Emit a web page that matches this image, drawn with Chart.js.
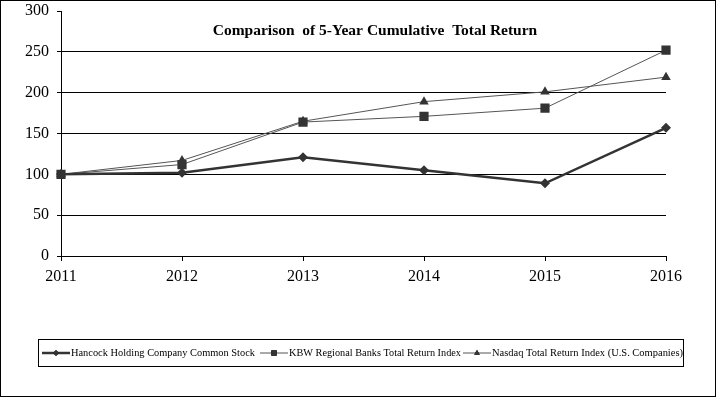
<!DOCTYPE html>
<html>
<head>
<meta charset="utf-8">
<script src="https://cdn.jsdelivr.net/npm/chart.js@4/dist/chart.umd.min.js"></script>
<style>
  html, body { margin: 0; padding: 0; background: #fff; }
  #wrap { width: 716px; height: 397px; position: relative; }
</style>
</head>
<body>
<div id="wrap"><canvas id="chart" width="716" height="397"></canvas></div>
<script>
// Chart data
const years = ['2011', '2012', '2013', '2014', '2015', '2016'];
const hancock = [100, 102, 121, 105, 89, 157];
const kbw = [100, 112, 164, 171, 181, 252];
const nasdaq = [100, 117, 165, 189, 201, 219];
const seriesNames = [
    'Hancock Holding Company Common Stock',
    'KBW Regional Banks Total Return Index',
    'Nasdaq Total Return Index (U.S. Companies)'
];
const chartTitle = 'Comparison  of 5-Year Cumulative  Total Return';
const yTicks = [0, 50, 100, 150, 200, 250, 300];

const serif = '"Liberation Serif", "Times New Roman", serif';
const ink = '#333333';

// legend entry starts (line sample left edge) and text widths
const legendX = [42, 260, 463];
const legendTextW = [184, 172, 191];

// Title, outer frame and legend box drawn on the canvas
const decorations = {
    id: 'decorations',
    afterDraw(chart) {
        const ctx = chart.ctx;
        ctx.save();

        // outer frame
        ctx.strokeStyle = '#000';
        ctx.lineWidth = 1;
        ctx.strokeRect(0.5, 0.5, chart.width - 1, chart.height - 1);

        // title
        ctx.fillStyle = '#000';
        ctx.font = 'bold 15.5px ' + serif;
        ctx.textAlign = 'center';
        ctx.textBaseline = 'middle';
        ctx.fillText(chartTitle, 375, 31);

        // legend
        ctx.strokeStyle = '#000';
        ctx.lineWidth = 1;
        ctx.strokeRect(38.5, 339.5, 645, 27);
        ctx.font = '10.5px ' + serif;
        ctx.textAlign = 'left';
        const y = 353;
        chart.data.datasets.forEach((ds, i) => {
            const x = legendX[i];
            ctx.strokeStyle = ds.borderColor;
            ctx.lineWidth = ds.borderWidth;
            ctx.beginPath();
            ctx.moveTo(x, y);
            ctx.lineTo(x + 28, y);
            ctx.stroke();
            Chart.helpers.drawPoint(ctx, {
                pointStyle: ds.pointStyle,
                radius: ds.pointRadius * 0.6,
                borderWidth: 0
            }, x + 14, y);
            ctx.fillStyle = ink;
            ctx.fill();
            ctx.fillStyle = '#000';
            const w = ctx.measureText(ds.label).width;
            ctx.save();
            ctx.translate(x + 29, y);
            ctx.scale(legendTextW[i] / w, 1);
            ctx.fillText(ds.label, 0, 0);
            ctx.restore();
        });

        ctx.restore();
    }
};

const data = {
    labels: years,
    datasets: [
        {
            label: seriesNames[0],
            data: hancock,
            borderColor: ink,
            backgroundColor: ink,
            borderWidth: 2.5,
            pointStyle: 'rectRot',
            pointRadius: 5,
            pointBorderWidth: 0
        },
        {
            label: seriesNames[1],
            data: kbw,
            borderColor: '#555555',
            backgroundColor: ink,
            borderWidth: 1,
            pointStyle: 'rect',
            pointRadius: 6.5,
            pointBorderWidth: 0
        },
        {
            label: seriesNames[2],
            data: nasdaq,
            borderColor: '#555555',
            backgroundColor: ink,
            borderWidth: 1,
            pointStyle: 'triangle',
            pointRadius: 5.5,
            pointBorderWidth: 0
        }
    ]
};

const config = {
    type: 'line',
    data: data,
    options: {
        responsive: false,
        animation: false,
        layout: {
            autoPadding: false,
            padding: { left: 0, right: 50, top: 11, bottom: 111 }
        },
        elements: { line: { tension: 0 } },
        plugins: {
            legend: { display: false },
            title: { display: false },
            tooltip: { enabled: false }
        },
        scales: {
            x: {
                offset: false,
                grid: {
                    drawOnChartArea: false,
                    drawTicks: true,
                    tickLength: 5,
                    color: '#000'
                },
                border: { color: '#000', width: 1 },
                ticks: {
                    color: '#000',
                    font: { family: serif, size: 16 },
                    padding: 6,
                    maxRotation: 0
                },
                afterFit(scale) { scale.height = 30; }
            },
            y: {
                min: 0,
                max: 300,
                afterBuildTicks(scale) {
                    scale.ticks = yTicks.map(v => ({ value: v }));
                },
                grid: {
                    color: (c) => (c.tick && c.tick.value === 300 ? 'rgba(0,0,0,0)' : '#000'),
                    tickColor: '#000',
                    tickLength: 4,
                    lineWidth: 1
                },
                border: { color: '#000', width: 1 },
                ticks: {
                    color: '#000',
                    font: { family: serif, size: 16 },
                    padding: 8
                },
                // fixed width, and no extra room above/below for the end labels
                afterFit(scale) {
                    scale.width = 61;
                    scale.paddingTop = 0;
                    scale.paddingBottom = 0;
                }
            }
        }
    },
    plugins: [decorations]
};

const blsChart = new Chart(document.getElementById('chart'), config);
</script>
</body>
</html>
